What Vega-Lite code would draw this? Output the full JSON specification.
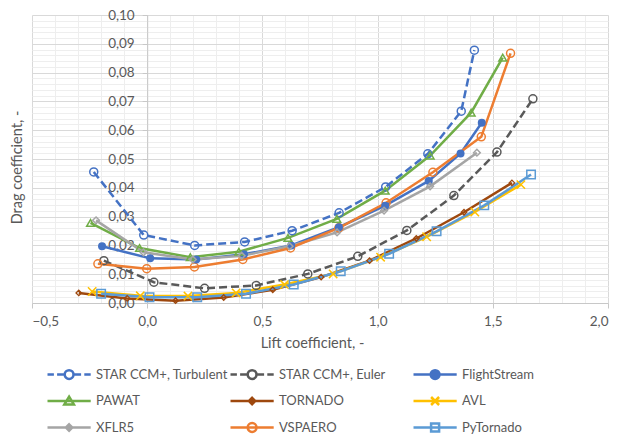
{
  "$schema": "https://vega.github.io/schema/vega-lite/v6.json",
  "width": 576,
  "height": 288,
  "autosize": {"type": "none"},
  "padding": {"left": 32, "top": 15, "right": 9, "bottom": 131},
  "background": "white",
  "config": {
    "font": "Lato",
    "view": {"stroke": null},
    "axis": {"labelColor": "#595959", "titleColor": "#595959", "labelFont": "Lato", "titleFont": "Lato", "titleFontWeight": "normal"}
  },
  "data": {"values": [
    {"series": "STAR CCM+, Turbulent", "cl": -0.232, "cd": 0.0455},
    {"series": "STAR CCM+, Turbulent", "cl": -0.015, "cd": 0.0236},
    {"series": "STAR CCM+, Turbulent", "cl": 0.206, "cd": 0.0200},
    {"series": "STAR CCM+, Turbulent", "cl": 0.423, "cd": 0.0212},
    {"series": "STAR CCM+, Turbulent", "cl": 0.629, "cd": 0.0251},
    {"series": "STAR CCM+, Turbulent", "cl": 0.833, "cd": 0.0313},
    {"series": "STAR CCM+, Turbulent", "cl": 1.035, "cd": 0.0403},
    {"series": "STAR CCM+, Turbulent", "cl": 1.218, "cd": 0.0518},
    {"series": "STAR CCM+, Turbulent", "cl": 1.363, "cd": 0.0666},
    {"series": "STAR CCM+, Turbulent", "cl": 1.42, "cd": 0.0878},
    {"series": "STAR CCM+, Euler", "cl": -0.188, "cd": 0.0147},
    {"series": "STAR CCM+, Euler", "cl": 0.029, "cd": 0.0072},
    {"series": "STAR CCM+, Euler", "cl": 0.249, "cd": 0.0051},
    {"series": "STAR CCM+, Euler", "cl": 0.473, "cd": 0.0061},
    {"series": "STAR CCM+, Euler", "cl": 0.697, "cd": 0.0101},
    {"series": "STAR CCM+, Euler", "cl": 0.914, "cd": 0.0162},
    {"series": "STAR CCM+, Euler", "cl": 1.127, "cd": 0.0252},
    {"series": "STAR CCM+, Euler", "cl": 1.331, "cd": 0.0373},
    {"series": "STAR CCM+, Euler", "cl": 1.518, "cd": 0.0524},
    {"series": "STAR CCM+, Euler", "cl": 1.674, "cd": 0.0709},
    {"series": "FlightStream", "cl": -0.196, "cd": 0.0197},
    {"series": "FlightStream", "cl": 0.013, "cd": 0.0155},
    {"series": "FlightStream", "cl": 0.213, "cd": 0.0151},
    {"series": "FlightStream", "cl": 0.42, "cd": 0.0169},
    {"series": "FlightStream", "cl": 0.625, "cd": 0.0200},
    {"series": "FlightStream", "cl": 0.832, "cd": 0.0263},
    {"series": "FlightStream", "cl": 1.033, "cd": 0.0338},
    {"series": "FlightStream", "cl": 1.222, "cd": 0.0424},
    {"series": "FlightStream", "cl": 1.36, "cd": 0.0519},
    {"series": "FlightStream", "cl": 1.452, "cd": 0.0626},
    {"series": "PAWAT", "cl": -0.246, "cd": 0.0278},
    {"series": "PAWAT", "cl": -0.033, "cd": 0.0191},
    {"series": "PAWAT", "cl": 0.187, "cd": 0.0159},
    {"series": "PAWAT", "cl": 0.398, "cd": 0.0178},
    {"series": "PAWAT", "cl": 0.611, "cd": 0.0226},
    {"series": "PAWAT", "cl": 0.823, "cd": 0.0292},
    {"series": "PAWAT", "cl": 1.033, "cd": 0.0390},
    {"series": "PAWAT", "cl": 1.228, "cd": 0.0512},
    {"series": "PAWAT", "cl": 1.406, "cd": 0.0661},
    {"series": "PAWAT", "cl": 1.543, "cd": 0.0852},
    {"series": "TORNADO", "cl": -0.297, "cd": 0.0035},
    {"series": "TORNADO", "cl": -0.087, "cd": 0.0016},
    {"series": "TORNADO", "cl": 0.123, "cd": 0.0008},
    {"series": "TORNADO", "cl": 0.332, "cd": 0.0019},
    {"series": "TORNADO", "cl": 0.545, "cd": 0.0046},
    {"series": "TORNADO", "cl": 0.755, "cd": 0.0090},
    {"series": "TORNADO", "cl": 0.965, "cd": 0.0147},
    {"series": "TORNADO", "cl": 1.168, "cd": 0.0224},
    {"series": "TORNADO", "cl": 1.375, "cd": 0.0315},
    {"series": "TORNADO", "cl": 1.583, "cd": 0.0417},
    {"series": "AVL", "cl": -0.239, "cd": 0.0040},
    {"series": "AVL", "cl": -0.03, "cd": 0.0025},
    {"series": "AVL", "cl": 0.177, "cd": 0.0024},
    {"series": "AVL", "cl": 0.386, "cd": 0.0035},
    {"series": "AVL", "cl": 0.596, "cd": 0.0064},
    {"series": "AVL", "cl": 0.807, "cd": 0.0101},
    {"series": "AVL", "cl": 1.013, "cd": 0.0159},
    {"series": "AVL", "cl": 1.213, "cd": 0.0230},
    {"series": "AVL", "cl": 1.422, "cd": 0.0316},
    {"series": "AVL", "cl": 1.622, "cd": 0.0411},
    {"series": "XFLR5", "cl": -0.222, "cd": 0.0287},
    {"series": "XFLR5", "cl": -0.016, "cd": 0.0176},
    {"series": "XFLR5", "cl": 0.198, "cd": 0.0151},
    {"series": "XFLR5", "cl": 0.41, "cd": 0.0164},
    {"series": "XFLR5", "cl": 0.618, "cd": 0.0197},
    {"series": "XFLR5", "cl": 0.824, "cd": 0.0245},
    {"series": "XFLR5", "cl": 1.028, "cd": 0.0321},
    {"series": "XFLR5", "cl": 1.228, "cd": 0.0405},
    {"series": "XFLR5", "cl": 1.431, "cd": 0.0522},
    {"series": "VSPAERO", "cl": -0.214, "cd": 0.0136},
    {"series": "VSPAERO", "cl": -0.002, "cd": 0.0119},
    {"series": "VSPAERO", "cl": 0.205, "cd": 0.0125},
    {"series": "VSPAERO", "cl": 0.415, "cd": 0.0151},
    {"series": "VSPAERO", "cl": 0.622, "cd": 0.0191},
    {"series": "VSPAERO", "cl": 0.832, "cd": 0.0261},
    {"series": "VSPAERO", "cl": 1.037, "cd": 0.0348},
    {"series": "VSPAERO", "cl": 1.24, "cd": 0.0454},
    {"series": "VSPAERO", "cl": 1.45, "cd": 0.0577},
    {"series": "VSPAERO", "cl": 1.577, "cd": 0.0867},
    {"series": "PyTornado", "cl": -0.2, "cd": 0.0032},
    {"series": "PyTornado", "cl": 0.01, "cd": 0.0020},
    {"series": "PyTornado", "cl": 0.217, "cd": 0.0020},
    {"series": "PyTornado", "cl": 0.429, "cd": 0.0032},
    {"series": "PyTornado", "cl": 0.636, "cd": 0.0064},
    {"series": "PyTornado", "cl": 0.84, "cd": 0.0110},
    {"series": "PyTornado", "cl": 1.05, "cd": 0.0171},
    {"series": "PyTornado", "cl": 1.256, "cd": 0.0249},
    {"series": "PyTornado", "cl": 1.463, "cd": 0.0339},
    {"series": "PyTornado", "cl": 1.666, "cd": 0.0446}
  ]},
  "encoding": {
    "x": {
      "field": "cl", "type": "quantitative",
      "scale": {"domain": [-0.5, 2.0], "nice": false, "zero": false},
      "axis": {
        "title": "Lift coefficient, -",
        "values": [-0.5, -0.4, -0.3, -0.2, -0.1, 0, 0.1, 0.2, 0.3, 0.4, 0.5, 0.6, 0.7, 0.8, 0.9, 1.0, 1.1, 1.2, 1.3, 1.4, 1.5, 1.6, 1.7, 1.8, 1.9, 2.0],
        "labelExpr": "abs(datum.value*2 - round(datum.value*2)) < 0.001 ? replace(format(datum.value, '.1f'), '.', ',') : ''",
        "labelOverlap": false,
        "labelFontSize": 13.5,
        "labelPadding": 6,
        "tickSize": 5,
        "tickColor": {"condition": {"test": "abs(datum.value*2 - round(datum.value*2)) < 0.001", "value": "#C8C8C8"}, "value": "transparent"},
        "domainColor": "#C8C8C8",
        "domainWidth": 1,
        "grid": true,
        "gridColor": {"condition": {"test": "abs(datum.value*2 - round(datum.value*2)) < 0.001", "value": "#D9D9D9"}, "value": "#EEEEEE"},
        "titleFontSize": 14.5,
        "titleX": 280,
        "titleY": 40,
        "titleBaseline": "middle",
        "titleAnchor": "middle"
      }
    },
    "y": {
      "field": "cd", "type": "quantitative",
      "scale": {"domain": [0, 0.1], "nice": false, "zero": true},
      "axis": {
        "title": "Drag coefficient, -",
        "offset": -115.2,
        "values": [0, 0.002, 0.004, 0.006, 0.008, 0.01, 0.012, 0.014, 0.016, 0.018, 0.02, 0.022, 0.024, 0.026, 0.028, 0.03, 0.032, 0.034, 0.036, 0.038, 0.04, 0.042, 0.044, 0.046, 0.048, 0.05, 0.052, 0.054, 0.056, 0.058, 0.06, 0.062, 0.064, 0.066, 0.068, 0.07, 0.072, 0.074, 0.076, 0.078, 0.08, 0.082, 0.084, 0.086, 0.088, 0.09, 0.092, 0.094, 0.096, 0.098, 0.1],
        "labelExpr": "abs(datum.value*100 - round(datum.value*100)) < 0.001 ? replace(format(datum.value, '.2f'), '.', ',') : ''",
        "labelOverlap": false,
        "labelFontSize": 13.5,
        "labelPadding": 8,
        "tickSize": 5,
        "tickColor": {"condition": {"test": "abs(datum.value*100 - round(datum.value*100)) < 0.001", "value": "#C8C8C8"}, "value": "transparent"},
        "domainColor": "#C8C8C8",
        "grid": true,
        "gridColor": {"condition": {"test": "abs(datum.value*100 - round(datum.value*100)) < 0.001", "value": "#D9D9D9"}, "value": "#EEEEEE"},
        "titleFontSize": 14.5,
        "titleAngle": -90,
        "titleX": -130,
        "titleY": 152,
        "titleBaseline": "middle",
        "titleAlign": "center"
      }
    },
    "color": {
      "field": "series", "type": "nominal",
      "scale": {
        "domain": ["STAR CCM+, Turbulent", "STAR CCM+, Euler", "FlightStream", "PAWAT", "TORNADO", "AVL", "XFLR5", "VSPAERO", "PyTornado"],
        "range": ["#4472C4", "#595959", "#4472C4", "#70AD47", "#9E480E", "#FFC000", "#A5A5A5", "#ED7D31", "#5B9BD5"]
      },
      "legend": {
        "title": null,
        "orient": "none",
        "legendX": 13,
        "legendY": 353,
        "direction": "horizontal",
        "columns": 3,
        "gridAlign": "all",
        "columnPadding": -4,
        "rowPadding": 7.5,
        "padding": 0,
        "symbolSize": 64,
        "symbolStrokeWidth": 2.5,
        "labelOffset": 38,
        "labelFontSize": 13,
        "labelFont": "Lato",
        "labelColor": "#595959",
        "labelLimit": 300,
        "encode": {
          "symbols": {
            "update": {
              "shape": {"signal": "datum.value === 'STAR CCM+, Turbulent' || datum.value === 'STAR CCM+, Euler' ? 'M-1,0H0.6M1.4,0H3.3M5.5,0H7.4M8.2,0H9.8M5.5,0A1.1,1.1 0 1,1 3.3,0A1.1,1.1 0 1,1 5.5,0Z' : datum.value === 'FlightStream' || datum.value === 'VSPAERO' ? 'M-1,0H9.8M5.5,0A1.1,1.1 0 1,1 3.3,0A1.1,1.1 0 1,1 5.5,0Z' : datum.value === 'PAWAT' ? 'M-1,0H9.8M4.4,-1.1L5.6,0.9L3.2,0.9Z' : datum.value === 'TORNADO' || datum.value === 'XFLR5' ? 'M-1,0H9.8M4.4,-0.8L5.2,0L4.4,0.8L3.6,0Z' : datum.value === 'AVL' ? 'M-1,0H9.8M3.4,-1L5.4,1M3.4,1L5.4,-1' : 'M-1,0H9.8M3.4,-1H5.4V1H3.4Z'"},
              "fill": {"scale": "color", "field": "value"},
              "fillOpacity": {"signal": "datum.value === 'FlightStream' ? 1 : 0"},
              "stroke": {"scale": "color", "field": "value"},
              "strokeWidth": {"value": 2.5},
              "strokeDash": {"value": []},
              "size": {"value": 64},
              "opacity": {"value": 1}
            }
          }
        }
      }
    }
  },
  "layer": [
    {
      "transform": [{"filter": {"field": "series", "oneOf": ["STAR CCM+, Turbulent", "STAR CCM+, Euler"]}}],
      "mark": {"type": "line", "strokeWidth": 2.5, "strokeDash": [8, 4]}
    },
    {
      "transform": [{"filter": {"field": "series", "oneOf": ["FlightStream", "PAWAT", "TORNADO", "AVL", "XFLR5", "VSPAERO", "PyTornado"]}}],
      "mark": {"type": "line", "strokeWidth": 2.5}
    },
    {
      "transform": [{"filter": {"field": "series", "oneOf": ["STAR CCM+, Turbulent", "STAR CCM+, Euler", "VSPAERO"]}}],
      "mark": {"type": "point", "shape": "circle", "filled": false, "size": 64, "strokeWidth": 1.5, "opacity": 1}
    },
    {
      "transform": [{"filter": {"field": "series", "equal": "FlightStream"}}],
      "mark": {"type": "point", "shape": "circle", "filled": true, "size": 64, "opacity": 1}
    },
    {
      "transform": [{"filter": {"field": "series", "equal": "PAWAT"}}],
      "mark": {"type": "point", "shape": "triangle-up", "filled": false, "size": 60, "strokeWidth": 1.5, "opacity": 1}
    },
    {
      "transform": [{"filter": {"field": "series", "equal": "TORNADO"}}],
      "mark": {"type": "point", "shape": "diamond", "filled": false, "size": 30, "strokeWidth": 1.3, "opacity": 1}
    },
    {
      "transform": [{"filter": {"field": "series", "equal": "AVL"}}],
      "mark": {"type": "point", "shape": "M-1,-1L1,1M-1,1L1,-1", "filled": false, "size": 70, "strokeWidth": 1.5, "opacity": 1}
    },
    {
      "transform": [{"filter": {"field": "series", "equal": "XFLR5"}}],
      "mark": {"type": "point", "shape": "diamond", "filled": false, "size": 45, "strokeWidth": 1.5, "opacity": 1}
    },
    {
      "transform": [{"filter": {"field": "series", "equal": "PyTornado"}}],
      "mark": {"type": "point", "shape": "square", "filled": false, "size": 72, "strokeWidth": 1.5, "opacity": 1}
    }
  ]
}
